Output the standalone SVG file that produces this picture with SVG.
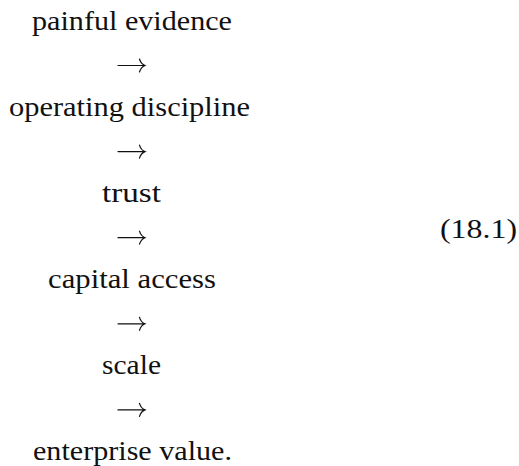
<svg xmlns="http://www.w3.org/2000/svg" width="519" height="466" viewBox="0 0 519 466">
  <style>
    text { font-family: 'Liberation Serif', 'DejaVu Serif', serif; font-size: 28px; fill: #111; }
    .t { text-anchor: middle; }
    .arr { fill: none; stroke: #111; stroke-width: 1.2; stroke-linecap: round; }
  </style>
  <defs>
    <!-- rightward arrow: shaft plus curved barbs, origin at the shaft's left end -->
    <path id="rarrow" d="M0 0 H27 M21.5 -6.5 Q23 -1.5 27 0 Q23 1.5 21.5 6.5"/>
  </defs>
  <rect width="519" height="466" fill="#fff"/>

  <g id="n1"><text class="t" x="132" y="30" textLength="200" lengthAdjust="spacingAndGlyphs">painful evidence</text></g>
  <g id="n2"><text class="t" x="129.5" y="116" textLength="241" lengthAdjust="spacingAndGlyphs">operating discipline</text></g>
  <g id="n3"><text class="t" x="131.5" y="202" textLength="59" lengthAdjust="spacingAndGlyphs">trust</text></g>
  <g id="n4"><text class="t" x="132" y="288" textLength="168" lengthAdjust="spacingAndGlyphs">capital access</text></g>
  <g id="n5"><text class="t" x="131.5" y="374" textLength="59" lengthAdjust="spacingAndGlyphs">scale</text></g>
  <g id="n6"><text class="t" x="132.5" y="460" textLength="199" lengthAdjust="spacingAndGlyphs">enterprise value.</text></g>

  <g id="connectors" class="arr">
    <use href="#rarrow" x="118" y="65.5"/>
    <use href="#rarrow" x="118" y="151.6"/>
    <use href="#rarrow" x="118" y="237.7"/>
    <use href="#rarrow" x="118" y="323.8"/>
    <use href="#rarrow" x="118" y="409.9"/>
  </g>

  <g id="eqnum"><text x="440" y="238" textLength="77" lengthAdjust="spacingAndGlyphs">(18.1)</text></g>
</svg>
